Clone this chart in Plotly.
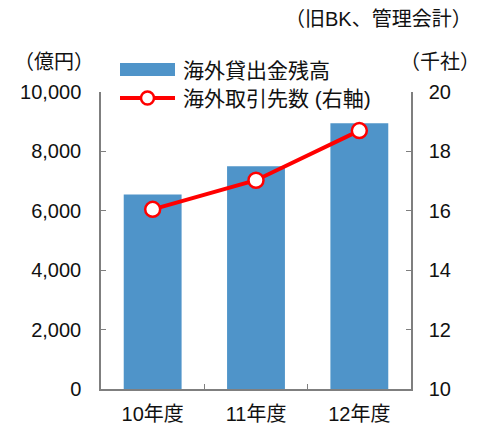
import plotly.graph_objects as go

# 年度別データ
years = ["10年度", "11年度", "12年度"]
loan_balance = [6550, 7500, 8950]        # 海外貸出金残高（億円）
client_count = [16.05, 17.03, 18.7]      # 海外取引先数（千社）

left_ticks = [0, 2000, 4000, 6000, 8000, 10000]
left_labels = ["0", "2,000", "4,000", "6,000", "8,000", "10,000"]
right_ticks = [10, 12, 14, 16, 18, 20]

BAR_COLOR = "#4F94C9"
LINE_COLOR = "#FF0000"
AXIS_COLOR = "#7F7F7F"
TEXT_COLOR = "#111111"
FONT = "Liberation Sans, Arial, Noto Sans CJK JP"
FS = 20

fig = go.Figure()
fig.add_trace(go.Bar(
    x=years, y=loan_balance, name="海外貸出金残高",
    marker=dict(color=BAR_COLOR, line=dict(width=0)),
    width=0.56, yaxis="y", showlegend=False,
))
fig.add_trace(go.Scatter(
    x=years, y=client_count, name="海外取引先数(右軸)",
    mode="lines+markers",
    line=dict(color=LINE_COLOR, width=4),
    marker=dict(color="white", size=15, line=dict(color=LINE_COLOR, width=2.5)),
    yaxis="y2", showlegend=False, cliponaxis=False,
))

fig.update_layout(
    width=491, height=434,
    margin=dict(l=101, r=80, t=92, b=45, autoexpand=False),
    paper_bgcolor="white", plot_bgcolor="white",
    font=dict(family=FONT, size=FS, color=TEXT_COLOR),
    bargap=0.44,
    xaxis=dict(
        showline=True, linecolor=AXIS_COLOR, linewidth=1.5,
        ticks="inside", tickson="boundaries", ticklen=5, tickcolor=AXIS_COLOR,
        showgrid=False, ticklabelstandoff=6, automargin=False,
    ),
    yaxis=dict(
        range=[0, 10000], tickvals=left_ticks, ticktext=left_labels,
        showline=True, linecolor=AXIS_COLOR, linewidth=1.5,
        ticks="inside", ticklen=5, tickcolor=AXIS_COLOR,
        showgrid=False, zeroline=False, ticklabelstandoff=14, automargin=False,
    ),
    yaxis2=dict(
        range=[10, 20], tickvals=right_ticks,
        overlaying="y", side="right",
        showline=True, linecolor=AXIS_COLOR, linewidth=1.5,
        ticks="inside", ticklen=5, tickcolor=AXIS_COLOR,
        showgrid=False, zeroline=False, ticklabelstandoff=12, automargin=False,
    ),
)

# 凡例（手描き）
fig.add_shape(type="rect", xref="paper", yref="paper",
              x0=(120 - 101) / 310, x1=(175 - 101) / 310,
              y0=1 + (92 - 76) / 297, y1=1 + (92 - 63) / 297,
              fillcolor=BAR_COLOR, line=dict(width=0))
fig.add_shape(type="line", xref="paper", yref="paper",
              x0=(120 - 101) / 310, x1=(175 - 101) / 310,
              y0=1 + (92 - 98) / 297, y1=1 + (92 - 98) / 297,
              line=dict(color=LINE_COLOR, width=4))
fig.add_shape(type="circle", xref="paper", yref="paper",
              x0=(141 - 101) / 310, x1=(154 - 101) / 310,
              y0=1 + (92 - 104.5) / 297, y1=1 + (92 - 91.5) / 297,
              fillcolor="white", line=dict(color=LINE_COLOR, width=2.5))

annotations = [
    dict(text="海外貸出金残高", x=181, y=70, size=21),
    dict(text="海外取引先数 (右軸)", x=181, y=98, size=21),
    dict(text="（旧BK、管理会計）", x=283, y=19, size=20),
    dict(text="（億円）", x=12, y=62, size=20),
    dict(text="（千社）", x=398, y=62, size=20),
]
for a in annotations:
    fig.add_annotation(
        text=a["text"], xref="paper", yref="paper",
        x=(a["x"] - 101) / 310, y=1 + (92 - a["y"]) / 297,
        xanchor="left", yanchor="middle", showarrow=False,
        font=dict(family=FONT, size=a["size"], color=TEXT_COLOR),
    )

fig.write_html("out.html")
